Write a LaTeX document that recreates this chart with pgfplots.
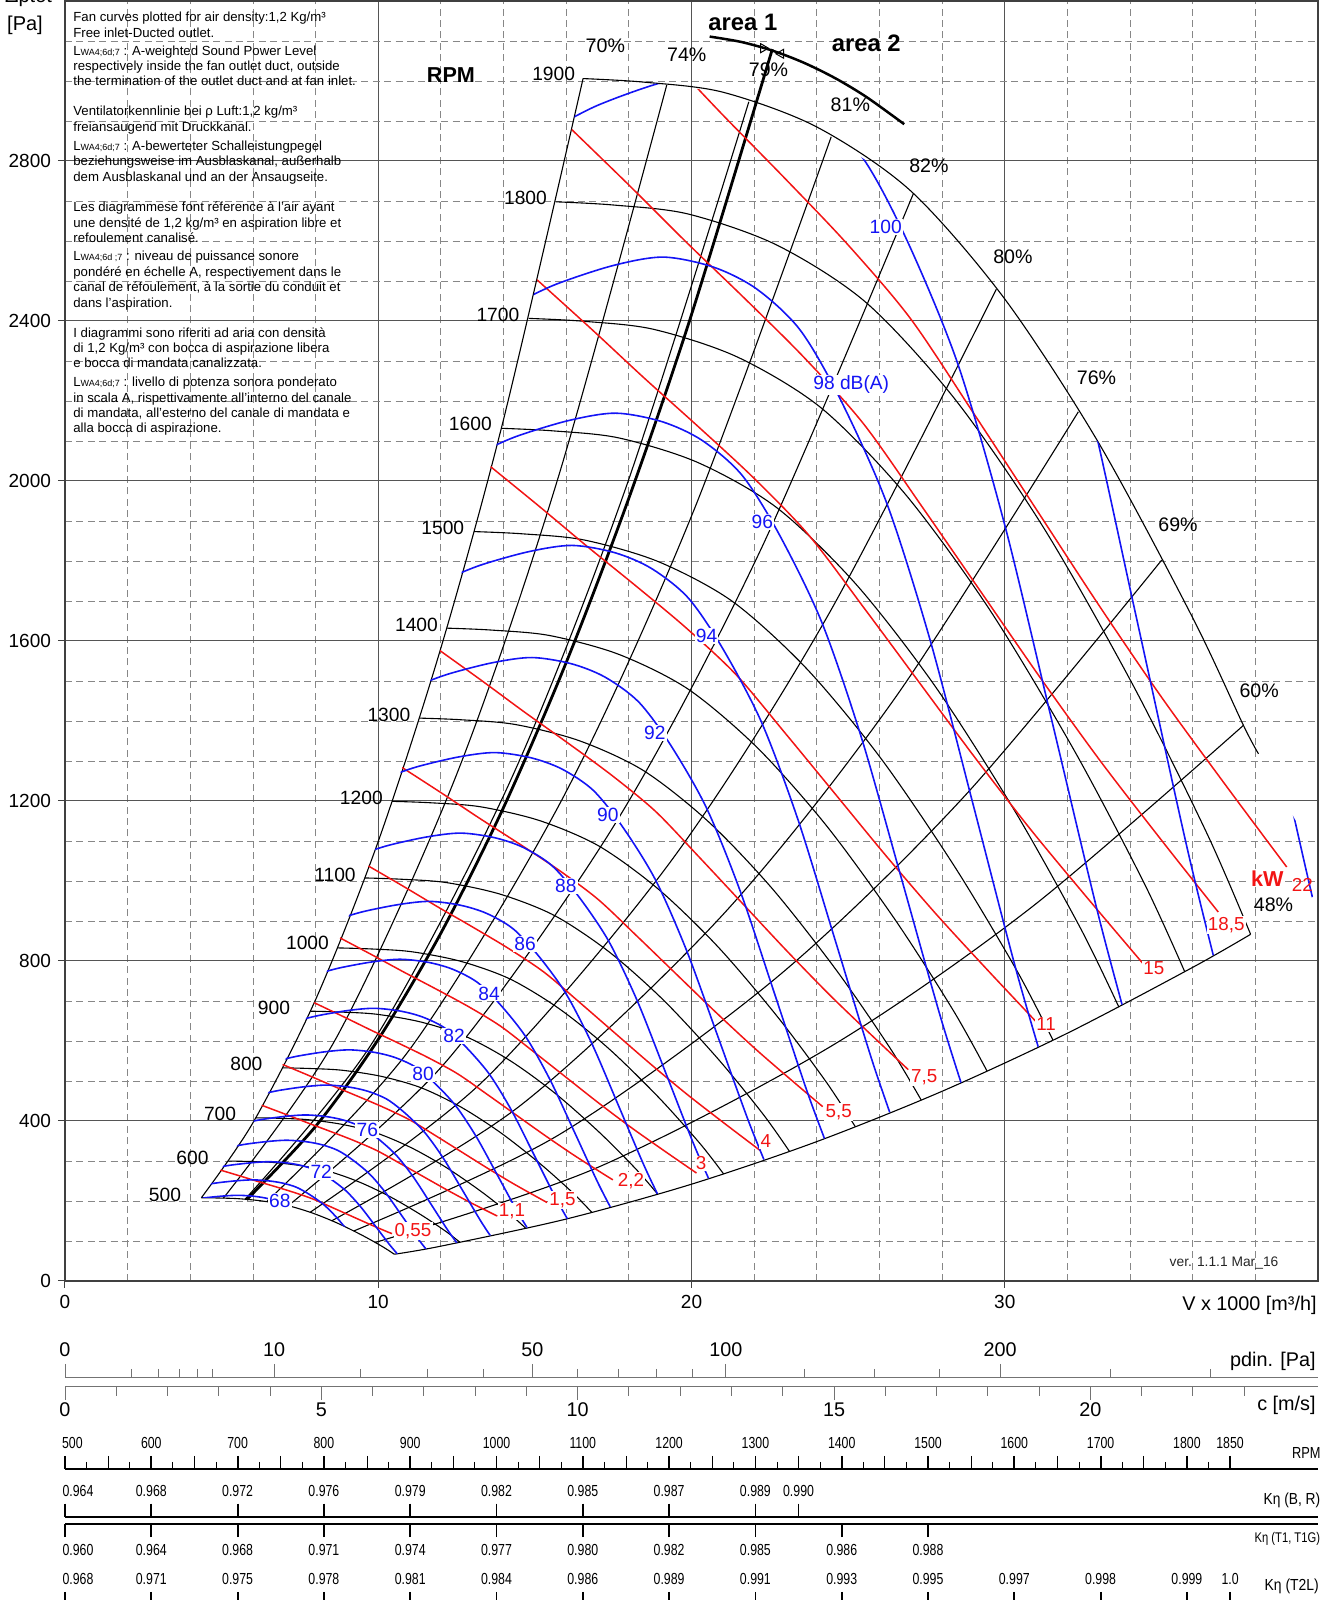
\documentclass[border=0pt]{standalone}
\usepackage{fontspec}
\setmainfont{Liberation Sans}
\usepackage{pgfplots}
\pgfplotsset{compat=1.18}

\definecolor{curveblue}{RGB}{20,20,245}
\definecolor{curvered}{RGB}{242,20,20}
\definecolor{gridgray}{RGB}{135,135,135}
\definecolor{majorgray}{RGB}{85,85,85}

\newcommand{\fsz}[1]{\fontsize{#1}{#1}\selectfont}
\newcommand{\cn}[1]{\scalebox{0.77}[1]{#1}}
\newcommand{\lwa}[1]{L{\fontsize{4.5}{5}\selectfont #1}}

\pgfplotsset{
  rpmc/.style={black, line width=0.55pt, smooth},
  effc/.style={black, line width=0.55pt, smooth},
  blc/.style={curveblue, line width=0.8pt, smooth},
  redc/.style={curvered, line width=0.75pt, smooth},
  scaleaxis/.style={scale only axis, width=626.5pt, height=8pt,
    xmin=0, xmax=40, hide y axis, clip=false, tick align=outside},
}
\tikzset{
  bl/.style={text=curveblue, fill=white, inner sep=0.6pt, font=\fsz{9.6}},
  rl/.style={text=curvered, fill=white, inner sep=0.6pt, font=\fsz{9.4}},
  pl/.style={font=\fsz{9.8}, inner sep=0.5pt},
  nl/.style={font=\fsz{9.6}, inner sep=0.5pt},
  tb/.style={anchor=base west, font=\fsz{6.6}, inner sep=0pt},
}

\begin{document}
\begin{tikzpicture}

% ---------------- main diagram ----------------
\begin{axis}[
  at={(32.5pt,159.5pt)}, anchor=origin,
  scale only axis, width=626.5pt, height=640pt,
  xmin=0, xmax=40, ymin=0, ymax=3200,
  clip=false,
  axis line style={black!75, line width=0.6pt},
  xtick={0,10,20,30}, ytick={0,400,...,2800},
  minor xtick={2,4,6,8,12,14,16,18,22,24,26,28,32,34,36,38},
  minor ytick={100,200,300,500,600,700,900,1000,1100,1300,1400,1500,1700,1800,1900,2100,2200,2300,2500,2600,2700,2900,3000,3100},
  grid=both,
  major grid style={majorgray, line width=0.5pt},
  minor grid style={gridgray, line width=0.45pt, dash pattern=on 3.5pt off 2.2pt},
  tick align=outside, tick pos=left, major tick length=3.5pt, minor tick length=0pt,
  major tick style={black!75, line width=0.5pt},
  ticklabel style={font=\fsz{9.5}},
  /pgf/number format/assume math mode=true,
  /pgf/number format/set thousands separator={},
]

% fan curves, one per speed
\addplot[rpmc] coordinates {(4.353,208.2) (4.868,207.5) (5.526,205.8) (6.316,199.8) (7.105,188.7) (7.895,170.0) (8.684,145.1) (9.474,114.8) (10.132,86.1) (10.513,66.9)};
\addplot[rpmc] coordinates {(5.223,299.8) (5.842,298.9) (6.632,296.4) (7.579,287.7) (8.526,271.7) (9.474,244.8) (10.421,208.9) (11.368,165.3) (12.158,124.0) (12.616,96.3)};
\addplot[rpmc] coordinates {(6.094,408.0) (6.816,406.8) (7.737,403.4) (8.842,391.6) (9.947,369.9) (11.053,333.2) (12.158,284.4) (13.263,225.0) (14.184,168.7) (14.718,131.1)};
\addplot[rpmc] coordinates {(6.964,532.9) (7.789,531.3) (8.842,526.9) (10.105,511.5) (11.368,483.1) (12.632,435.2) (13.895,371.4) (15.158,293.9) (16.211,220.4) (16.821,171.3)};
\addplot[rpmc] coordinates {(7.835,674.5) (8.763,672.5) (9.947,666.9) (11.368,647.3) (12.789,611.4) (14.211,550.8) (15.632,470.1) (17.053,372.0) (18.237,278.9) (18.924,216.7)};
\addplot[rpmc] coordinates {(8.705,832.7) (9.737,830.2) (11.053,823.3) (12.632,799.2) (14.211,754.8) (15.789,680.0) (17.368,580.3) (18.947,459.3) (20.263,344.3) (21.026,267.6)};
\addplot[rpmc] coordinates {(9.576,1007.6) (10.711,1004.5) (12.158,996.2) (13.895,967.0) (15.632,913.4) (17.368,822.9) (19.105,702.2) (20.842,555.7) (22.289,416.6) (23.129,323.8)};
\addplot[rpmc] coordinates {(10.446,1199.1) (11.684,1195.5) (13.263,1185.5) (15.158,1150.8) (17.053,1087.0) (18.947,979.3) (20.842,835.7) (22.737,661.4) (24.316,495.8) (25.232,385.3)};
\addplot[rpmc] coordinates {(11.317,1407.2) (12.658,1403.0) (14.368,1391.3) (16.421,1350.6) (18.474,1275.7) (20.526,1149.3) (22.579,980.8) (24.632,776.2) (26.342,581.9) (27.334,452.2)};
\addplot[rpmc] coordinates {(12.187,1632.1) (13.632,1627.2) (15.474,1613.6) (17.684,1566.4) (19.895,1479.5) (22.105,1332.9) (24.316,1137.5) (26.526,900.2) (28.368,674.9) (29.437,524.5)};
\addplot[rpmc] coordinates {(13.058,1873.5) (14.605,1867.9) (16.579,1852.4) (18.947,1798.2) (21.316,1698.4) (23.684,1530.1) (26.053,1305.8) (28.421,1033.4) (30.395,774.7) (31.539,602.1)};
\addplot[rpmc] coordinates {(13.928,2131.7) (15.579,2125.3) (17.684,2107.6) (20.211,2045.9) (22.737,1932.4) (25.263,1740.9) (27.789,1485.6) (30.316,1175.7) (32.421,881.5) (33.642,685.0)};
\addplot[rpmc] coordinates {(14.799,2406.5) (16.553,2399.3) (18.789,2379.2) (21.474,2309.6) (24.158,2181.5) (26.842,1965.4) (29.526,1677.2) (32.211,1327.3) (34.447,995.1) (35.745,773.3)};
\addplot[rpmc] coordinates {(15.669,2697.9) (17.526,2689.8) (19.895,2667.4) (22.737,2589.3) (25.579,2445.7) (28.421,2203.4) (31.263,1880.3) (34.105,1488.1) (36.474,1115.6) (37.847,867.0)};
\addplot[rpmc] coordinates {(16.54,3006) (18.5,2997) (21,2972) (24,2885) (27,2725) (30,2455) (33,2095) (36,1658) (37.62,1389) (38.1,1318)};

% efficiency lines (70% left limit, 48% lower limit)
\addplot[effc] coordinates {(4.353,208.2) (6,395.6) (8,703.4) (10,1099) (12,1582.6) (14,2154) (16.54,3006.6)};
\addplot[effc] coordinates {(5.055,207.1) (8.645,605.6) (12.487,1263.4) (15.752,2010.6) (19.21,2990)};
\addplot[effc] coordinates {(5.745,204.2) (9.824,597.0) (14.190,1245.6) (17.901,1982.3) (21.83,2948)};
\addplot[effc] coordinates {(6.437,198.1) (11.007,579.2) (15.899,1208.5) (20.057,1923.3) (24.46,2860.5)};
\addplot[effc] coordinates {(7.126,188.2) (12.186,550.3) (17.602,1148.2) (22.206,1827.5) (27.08,2717.8)};
\addplot[effc] coordinates {(7.824,171.7) (13.379,502.1) (19.325,1047.6) (24.379,1667.1) (29.73,2479.3)};
\addplot[effc] coordinates {(8.513,150.4) (14.558,440.0) (21.028,918.0) (26.527,1460.8) (32.35,2173)};
\addplot[effc] coordinates {(9.213,124.8) (15.755,364.9) (22.757,761.3) (28.708,1211.5) (35.01,1802.2)};
\addplot[effc] coordinates {(9.900,96.2) (16.929,281.3) (24.453,586.8) (30.848,933.9) (37.62,1389.1)};
\addplot[effc] coordinates {(10.513,66.9) (12,87.1) (16,154.9) (20,242) (24,348.5) (28,474.3) (32,619.5) (36,784.1) (37.847,866.6)};

% area boundary
\addplot[black, line width=1.4pt, smooth] coordinates {(5.8,203.2) (8,386.6) (10,604) (12,869.8) (14,1183.8) (16,1546.2) (18,1957) (20,2416) (22.58,3079.6)};
\addplot[black, line width=1.25pt, smooth] coordinates {(20.58,3111) (21.58,3097.7) (22.58,3076) (23.58,3045.8) (24.58,3007.3) (25.58,2960.2) (26.79,2892)};
\addplot[black, only marks, mark=triangle, mark size=2.6pt, mark options={rotate=-90, line width=0.5pt}] coordinates {(22.29,3082)};
\addplot[black, only marks, mark=triangle, mark size=2.6pt, mark options={rotate=90, line width=0.5pt}] coordinates {(22.86,3068)};

\begin{scope}
\clip (axis cs:4.353,208.2) -- (axis cs:6,395.6) -- (axis cs:8,703.4) -- (axis cs:10,1099) -- (axis cs:12,1582.6) -- (axis cs:14,2154) -- (axis cs:15.5,2640.3) -- (axis cs:16.54,3006.6) -- (axis cs:18.5,2997) -- (axis cs:21,2972) -- (axis cs:24,2885) -- (axis cs:27,2725) -- (axis cs:30,2455) -- (axis cs:33,2095) -- (axis cs:36,1658) -- (axis cs:37.62,1389) -- (axis cs:38.1,1318) -- (axis cs:40,1050) -- (axis cs:40,968) -- (axis cs:36,784.1) -- (axis cs:32,619.5) -- (axis cs:28,474.3) -- (axis cs:24,348.5) -- (axis cs:20,242) -- (axis cs:16,154.9) -- (axis cs:12,87.1) -- (axis cs:10.513,66.9) -- (axis cs:10.132,86.1) -- (axis cs:9.474,114.8) -- (axis cs:8.684,145.1) -- (axis cs:7.895,170.0) -- (axis cs:7.105,188.7) -- (axis cs:6.316,199.8) -- (axis cs:5.526,205.8) -- (axis cs:4.868,207.5) -- cycle;

% absorbed power [kW]
\addplot[redc] coordinates {(4.825,280.5) (5.556,263.3) (6.140,249.2) (6.725,235.6) (7.310,221.4) (7.895,205.6) (8.480,185.5) (9.064,165.0) (9.649,144.5) (10.234,124.8) (10.44,118.4)};
\addplot[redc] coordinates {(6.079,445.2) (7.000,418.0) (7.736,395.6) (8.473,373.9) (9.210,351.5) (9.947,326.4) (10.684,294.5) (11.420,261.9) (12.157,229.3) (12.894,198.1) (13.631,168.9) (13.80,162.4)};
\addplot[redc] coordinates {(6.742,547.9) (7.763,514.4) (8.581,486.8) (9.398,460.1) (10.215,432.5) (11.032,401.6) (11.849,362.4) (12.667,322.3) (13.484,282.2) (14.301,243.8) (15.118,207.9) (15.39,196.2)};
\addplot[redc] coordinates {(7.659,706.7) (8.820,663.4) (9.748,627.9) (10.677,593.4) (11.605,557.9) (12.533,518.0) (13.462,467.4) (14.390,415.7) (15.319,364.0) (16.247,314.5) (17.175,268.2) (17.49,252.9)};
\addplot[redc] coordinates {(8.494,869.5) (9.781,816.2) (10.811,772.5) (11.840,730.1) (12.870,686.4) (13.900,637.3) (14.929,575.1) (15.959,511.5) (16.988,447.9) (18.018,386.9) (19.048,329.9) (20.077,274.3) (20.13,271.6)};
\addplot[redc] coordinates {(9.347,1052.9) (10.764,988.4) (11.897,935.4) (13.030,884.1) (14.163,831.1) (15.296,771.8) (16.429,696.4) (17.562,619.3) (18.695,542.3) (19.828,468.5) (20.961,399.5) (22.094,332.1) (22.16,328.3)};
\addplot[redc] coordinates {(10.395,1302.2) (11.970,1222.5) (13.230,1157.0) (14.490,1093.5) (15.750,1028.0) (17.010,954.5) (18.270,861.3) (19.530,766.0) (20.790,670.8) (22.050,579.5) (23.310,494.1) (24.19,435.8)};
\addplot[redc] coordinates {(11.525,1600.8) (13.272,1502.7) (14.669,1422.2) (16.066,1344.2) (17.463,1263.7) (18.860,1173.4) (20.257,1058.7) (21.654,941.6) (23.051,824.6) (24.448,712.3) (25.845,607.4) (26.92,528.4)};
\addplot[redc] coordinates {(13.096,2067.0) (15.080,1940.4) (16.668,1836.5) (18.255,1735.7) (19.843,1631.7) (21.430,1515.2) (23.017,1367.1) (24.605,1215.9) (26.192,1064.7) (27.780,919.8) (29.367,784.4) (30.954,652.1) (30.98,650.2)};
\addplot[redc] coordinates {(14.522,2541.5) (16.722,2385.8) (18.482,2257.9) (20.242,2134.0) (22.003,2006.2) (23.763,1862.9) (25.523,1680.9) (27.283,1495.0) (29.043,1309.1) (30.804,1130.9) (32.564,964.4) (34.324,801.7) (34.41,794.0)};
\addplot[redc] coordinates {(15.576,2924.0) (17.936,2744.9) (19.824,2597.8) (21.712,2455.2) (23.600,2308.2) (25.488,2143.3) (27.376,1933.9) (29.264,1720.0) (31.152,1506.1) (33.040,1301.2) (34.928,1109.5) (36.816,922.4)};
\addplot[redc] coordinates {(16.5,3281) (19,3080) (21,2915) (23,2755) (25,2590) (27,2405) (29,2170) (31,1930) (33,1690) (35,1460) (37,1245) (39,1035)};

% sound power level LwA [dB(A)]
\addplot[blc] coordinates {(4.142,204.3) (4.528,208.5) (5.060,212.5) (5.527,214.2) (5.993,212.1) (6.392,207.5) (6.792,198.9) (7.165,184.3) (7.591,162.7) (7.990,134.1) (8.390,99.5) (8.789,64.6) (9.082,41.9)};
\addplot[blc] coordinates {(4.499,241.0) (4.918,246.0) (5.497,250.7) (6.003,252.8) (6.509,250.2) (6.943,244.8) (7.377,234.7) (7.782,217.4) (8.245,191.9) (8.679,158.2) (9.113,117.3) (9.547,76.2) (9.865,49.4)};
\addplot[blc] coordinates {(4.886,284.4) (5.342,290.2) (5.971,295.7) (6.520,298.2) (7.070,295.3) (7.542,288.8) (8.013,276.9) (8.453,256.5) (8.956,226.4) (9.427,186.6) (9.899,138.4) (10.370,90.0) (10.716,58.3)};
\addplot[blc] coordinates {(5.308,335.5) (5.803,342.4) (6.485,348.9) (7.083,351.9) (7.680,348.4) (8.192,340.8) (8.704,326.7) (9.182,302.7) (9.728,267.2) (10.240,220.2) (10.752,163.3) (11.264,106.1) (11.639,68.7)};
\addplot[blc] coordinates {(5.765,395.9) (6.303,404.0) (7.044,411.7) (7.693,415.1) (8.342,411.0) (8.898,402.1) (9.454,385.4) (9.973,357.1) (10.566,315.2) (11.123,259.8) (11.679,192.7) (12.235,125.2) (12.643,81.1)};
\addplot[blc] coordinates {(6.262,467.1) (6.846,476.6) (7.651,485.7) (8.356,489.8) (9.061,484.9) (9.665,474.4) (10.269,454.8) (10.833,421.3) (11.477,371.9) (12.081,306.5) (12.685,227.4) (13.289,147.7) (13.732,95.7)};
\addplot[blc] coordinates {(6.802,551.1) (7.436,562.3) (8.311,573.1) (9.076,577.8) (9.842,572.1) (10.498,559.7) (11.154,536.5) (11.767,497.1) (12.466,438.7) (13.123,361.6) (13.779,268.3) (14.435,174.3) (14.916,112.9)};
\addplot[blc] coordinates {(7.388,650.1) (8.077,663.4) (9.027,676.1) (9.859,681.7) (10.690,675.0) (11.403,660.3) (12.116,633.0) (12.781,586.5) (13.541,517.6) (14.254,426.6) (14.966,316.5) (15.679,205.6) (16.202,133.2)};
\addplot[blc] coordinates {(8.025,767.1) (8.773,782.8) (9.806,797.7) (10.709,804.3) (11.612,796.4) (12.386,779.0) (13.160,746.8) (13.883,692.0) (14.708,610.7) (15.482,503.4) (16.257,373.4) (17.031,242.6) (17.598,157.1)};
\addplot[blc] coordinates {(8.717,905.0) (9.530,923.6) (10.651,941.1) (11.632,949.0) (12.613,939.6) (13.454,919.2) (14.295,881.1) (15.079,816.4) (15.976,720.5) (16.817,593.9) (17.658,440.6) (18.499,286.3) (19.115,185.4)};
\addplot[blc] coordinates {(9.468,1067.8) (10.351,1089.6) (11.569,1110.4) (12.634,1119.7) (13.700,1108.5) (14.613,1084.4) (15.527,1039.6) (16.379,963.2) (17.353,850.1) (18.267,700.7) (19.180,519.8) (20.093,337.8) (20.763,218.7)};
\addplot[blc] coordinates {(10.284,1259.8) (11.243,1285.6) (12.566,1310.1) (13.724,1321.0) (14.881,1307.9) (15.873,1279.5) (16.865,1226.5) (17.791,1136.4) (18.849,1003.0) (19.841,826.7) (20.833,613.3) (21.826,398.5) (22.553,258.1)};
\addplot[blc] coordinates {(11.171,1486.3) (12.213,1516.8) (13.649,1545.7) (14.907,1558.6) (16.164,1543.1) (17.241,1509.6) (18.319,1447.1) (19.325,1340.8) (20.474,1183.4) (21.552,975.4) (22.629,723.6) (23.707,470.2) (24.497,304.5)};
\addplot[blc] coordinates {(12.134,1753.6) (13.265,1789.6) (14.826,1823.7) (16.192,1838.9) (17.557,1820.6) (18.728,1781.0) (19.898,1707.4) (20.991,1581.9) (22.239,1396.2) (23.410,1150.8) (24.580,853.7) (25.751,554.7) (26.609,359.3)};
\addplot[blc] coordinates {(13.180,2069.0) (14.409,2111.4) (16.104,2151.6) (17.587,2169.5) (19.071,2148.0) (20.342,2101.3) (21.613,2014.4) (22.800,1866.4) (24.156,1647.3) (25.427,1357.8) (26.699,1007.2) (27.970,654.5) (28.902,423.9)};
\addplot[blc] coordinates {(14.316,2441.0) (15.651,2491.0) (17.492,2538.5) (19.103,2559.7) (20.714,2534.3) (22.095,2479.2) (23.476,2376.6) (24.765,2202.0) (26.238,1943.5) (27.619,1601.9) (29.000,1188.3) (30.381,772.1) (31.394,500.1)};
\addplot[blc] coordinates {(15.55,2880) (17.0,2939) (19.0,2995) (20.75,3020) (22.5,2990) (24.0,2925) (25.5,2804) (26.9,2598) (28.5,2293) (30.0,1890) (31.5,1402) (33.0,911) (34.1,590)};
\addplot[blc] coordinates {(26.069,3451) (27.698,3308.2) (29.219,3065.2) (30.957,2705.3) (32.586,2229.9) (34.215,1654.1) (35.845,1074.8) (37.039,696.1)};
\addplot[blc] coordinates {(33.625,3191.9) (35.395,2630.9) (37.165,1951.6) (38.934,1268.1) (40.232,821.3)};
\end{scope}

% speed labels
\node[nl] at (axis cs:15.6,3017) {1900};
\node[nl] at (axis cs:14.70,2707) {1800};
\node[nl] at (axis cs:13.82,2415) {1700};
\node[nl] at (axis cs:12.94,2142) {1600};
\node[nl] at (axis cs:12.06,1882) {1500};
\node[nl] at (axis cs:11.22,1641) {1400};
\node[nl] at (axis cs:10.34,1414) {1300};
\node[nl] at (axis cs:9.46,1208) {1200};
\node[nl] at (axis cs:8.62,1015) {1100};
\node[nl] at (axis cs:7.74,845) {1000};
\node[nl] at (axis cs:6.67,684) {900};
\node[nl] at (axis cs:5.79,542) {800};
\node[nl] at (axis cs:4.95,417) {700};
\node[nl] at (axis cs:4.07,307) {600};
\node[nl] at (axis cs:3.19,215) {500};
\node[font=\bfseries\fsz{10.8}] at (axis cs:12.32,3015) {RPM};

% efficiency labels
\node[pl] at (axis cs:17.25,3087) {70\%};
\node[pl] at (axis cs:19.85,3066) {74\%};
\node[pl] at (axis cs:22.46,3028) {79\%};
\node[pl] at (axis cs:25.07,2941) {81\%};
\node[pl] at (axis cs:27.58,2788) {82\%};
\node[pl] at (axis cs:30.26,2560) {80\%};
\node[pl] at (axis cs:32.93,2257) {76\%};
\node[pl] at (axis cs:35.53,1890) {69\%};
\node[pl] at (axis cs:38.12,1475) {60\%};
\node[pl] at (axis cs:38.58,941) {48\%};

\node[font=\bfseries\fsz{11.9}] at (axis cs:21.64,3147) {area 1};
\node[font=\bfseries\fsz{11.9}] at (axis cs:25.58,3093) {area 2};

% sound level labels
\node[bl] at (axis cs:6.86,200) {68};
\node[bl] at (axis cs:8.18,273) {72};
\node[bl] at (axis cs:9.65,377) {76};
\node[bl] at (axis cs:11.43,517) {80};
\node[bl] at (axis cs:12.42,612) {82};
\node[bl] at (axis cs:13.54,719) {84};
\node[bl] at (axis cs:14.69,842) {86};
\node[bl] at (axis cs:15.99,988) {88};
\node[bl] at (axis cs:17.33,1165) {90};
\node[bl] at (axis cs:18.83,1371) {92};
\node[bl] at (axis cs:20.48,1613) {94};
\node[bl] at (axis cs:22.26,1898) {96};
\node[bl] at (axis cs:25.1,2240) {98 dB(A)};
\node[bl] at (axis cs:26.2,2635) {100};

% power labels
\node[rl] at (axis cs:11.11,124) {0,55};
\node[rl] at (axis cs:14.27,174) {1,1};
\node[rl] at (axis cs:15.88,202) {1,5};
\node[rl] at (axis cs:18.07,250) {2,2};
\node[rl] at (axis cs:20.31,294) {3};
\node[rl] at (axis cs:22.37,349) {4};
\node[rl] at (axis cs:24.70,422) {5,5};
\node[rl] at (axis cs:27.43,510) {7,5};
\node[rl] at (axis cs:31.32,642) {11};
\node[rl] at (axis cs:34.76,781) {15};
\node[rl] at (axis cs:37.07,889) {18,5};
\node[text=curvered, fill=white, inner sep=0.6pt, font=\bfseries\fsz{10.8}] at (axis cs:38.38,1007) {kW};
\node[text=curvered, inner sep=0.6pt, font=\fsz{9.4}] at (axis cs:39.5,989) {22};

\node[font=\fsz{6.9}, text=black!85] at (axis cs:37.0,45.7) {ver. 1.1.1 Mar\_16};
\end{axis}

% ---------------- auxiliary scales ----------------
% dynamic pressure
\begin{axis}[scaleaxis, at={(32.5pt,111pt)}, anchor=origin, ymin=-1, ymax=0,
  axis x line*=top, axis line style={black!55, line width=0.5pt},
  xtick={0,6.674,14.92,21.10,29.85}, xticklabels={0,10,50,100,200},
  minor xtick={2.11,2.985,3.655,4.221,4.719,9.439,11.56,13.35,16.35,17.66,18.88,20.02,23.60,25.85,27.92,33.37,36.56},
  major tick length=7pt, minor tick length=4.5pt,
  tick style={black!55, line width=0.5pt},
  xticklabel style={font=\fsz{9.9}}]
\end{axis}
% outlet velocity
\begin{axis}[scaleaxis, at={(32.5pt,106.65pt)}, anchor=origin, ymin=0, ymax=1,
  axis x line*=bottom, axis line style={black!55, line width=0.5pt},
  xtick={0,8.183,16.367,24.55,32.733}, xticklabels={0,5,10,15,20},
  minor xtick={1.637,3.273,4.910,6.547,9.820,11.457,13.093,14.730,18.003,19.640,21.277,22.913,26.187,27.823,29.460,31.097,34.370,36.007,37.643},
  major tick length=6.7pt, minor tick length=4.6pt,
  tick style={black!55, line width=0.5pt},
  xticklabel style={font=\fsz{9.9}, yshift=2pt}]
\end{axis}
% speed
\begin{axis}[scaleaxis, at={(32.5pt,65.5pt)}, anchor=origin, ymin=-1, ymax=0,
  axis x line*=top, axis line style={black, line width=0.9pt},
  xtick={0,2.755,5.51,8.265,11.02,13.775,16.53,19.285,22.04,24.795,27.55,30.305,33.06,35.815,37.1925},
  xticklabels={\hspace*{7.4pt}\cn{500},\cn{600},\cn{700},\cn{800},\cn{900},\cn{1000},\cn{1100},\cn{1200},\cn{1300},\cn{1400},\cn{1500},\cn{1600},\cn{1700},\cn{1800},\cn{1850}},
  minor xtick={0.689,2.066,3.444,4.821,6.199,7.576,8.954,10.331,11.709,13.086,14.464,15.841,17.219,18.596,19.974,21.351,22.729,24.106,25.484,26.861,28.239,29.616,30.994,32.371,33.749,35.126,36.504},
  extra x ticks={1.3775,4.1325,6.8875,9.6425,12.3975,15.1525,17.9075,20.6625,23.4175,26.1725,28.9275,31.6825,34.4375},
  extra x tick labels={},
  extra x tick style={major tick length=6.5pt, major tick style={black, line width=0.45pt}},
  major tick length=6.5pt, minor tick length=3.5pt,
  major tick style={black, line width=0.9pt}, minor tick style={black, line width=0.45pt},
  xticklabel style={font=\fsz{8}}]
\end{axis}
% motor efficiency factor B, R
\begin{axis}[scaleaxis, at={(32.5pt,41.65pt)}, anchor=origin, ymin=-1, ymax=0,
  axis x line*=top, axis line style={black, line width=0.9pt},
  xtick={0,2.755,5.51,8.265,11.02,13.775,16.53,19.285,22.04,23.4175},
  xticklabels={\hspace*{13pt}\cn{0.964},\cn{0.968},\cn{0.972},\cn{0.976},\cn{0.979},\cn{0.982},\cn{0.985},\cn{0.987},\cn{0.989},\cn{0.990}},
  major tick length=6.5pt, major tick style={black, line width=0.9pt},
  xticklabel style={font=\fsz{8}}]
\end{axis}
% motor efficiency factor T1, T1G
\begin{axis}[scaleaxis, at={(32.5pt,38pt)}, anchor=origin, ymin=0, ymax=1,
  axis x line*=bottom, axis line style={black, line width=0.9pt},
  xtick={0,2.755,5.51,8.265,11.02,13.775,16.53,19.285,22.04,24.795,27.55},
  xticklabels={\hspace*{13pt}\cn{0.960},\cn{0.964},\cn{0.968},\cn{0.971},\cn{0.974},\cn{0.977},\cn{0.980},\cn{0.982},\cn{0.985},\cn{0.986},\cn{0.988}},
  major tick length=6.5pt, major tick style={black, line width=0.9pt},
  xticklabel style={font=\fsz{8}}]
\end{axis}
% motor efficiency factor T2L
\begin{axis}[scaleaxis, at={(32.5pt,-3pt)}, anchor=origin, ymin=-1, ymax=0,
  axis x line*=top, axis line style={black, line width=0.9pt},
  xtick={0,2.755,5.51,8.265,11.02,13.775,16.53,19.285,22.04,24.795,27.55,30.305,33.06,35.815,37.1925},
  xticklabels={\hspace*{13pt}\cn{0.968},\cn{0.971},\cn{0.975},\cn{0.978},\cn{0.981},\cn{0.984},\cn{0.986},\cn{0.989},\cn{0.991},\cn{0.993},\cn{0.995},\cn{0.997},\cn{0.998},\cn{0.999},\cn{1.0}},
  major tick length=7pt, major tick style={black, line width=0.9pt},
  xticklabel style={font=\fsz{8}}]
\end{axis}

% axis titles and scale names
\node[font=\fsz{10}, anchor=base] at (14.3pt,798.6pt) {Δptot};
\node[font=\fsz{10}] at (12.5pt,787.1pt) {[Pa]};
\node[font=\fsz{9.9}, anchor=east, inner sep=0pt] at (658.5pt,147.5pt) {V x 1000 [m³/h]};
\node[font=\fsz{9.9}, anchor=east, inner sep=0pt] at (658pt,119.15pt) {pdin. [Pa]};
\node[font=\fsz{9.9}, anchor=east, inner sep=0pt] at (658pt,97.5pt) {c [m/s]};
\node[font=\fsz{8}, anchor=east, inner sep=0pt] at (660.5pt,73.35pt) {\scalebox{0.8}[1]{RPM}};
\node[font=\fsz{8}, anchor=east, inner sep=0pt] at (660.3pt,49.65pt) {\scalebox{0.86}[1]{Kη (B, R)}};
\node[font=\fsz{7}, anchor=east, inner sep=0pt] at (660.2pt,30.35pt) {\scalebox{0.8}[1]{Kη (T1, T1G)}};
\node[font=\fsz{8}, anchor=east, inner sep=0pt] at (659.6pt,6.65pt) {\scalebox{0.87}[1]{Kη (T2L)}};

% notes
\node[tb] at (36.5pt,789.35pt) {Fan curves plotted for air density:1,2 Kg/m³};
\node[tb] at (36.5pt,781.35pt) {Free inlet-Ducted outlet.};
\node[tb] at (36.5pt,772.35pt) {\lwa{WA4;6d;7} : A-weighted Sound Power Level};
\node[tb] at (36.5pt,764.85pt) {respectively inside the fan outlet duct, outside};
\node[tb] at (36.5pt,757.2pt) {the termination of the outlet duct and at fan inlet.};
\node[tb] at (36.5pt,742.2pt) {Ventilatorkennlinie bei ρ Luft:1,2 kg/m³};
\node[tb] at (36.5pt,734.2pt) {freiansaugend mit Druckkanal.};
\node[tb] at (36.5pt,724.85pt) {\lwa{WA4;6d;7} : A-bewerteter Schalleistungpegel};
\node[tb] at (36.5pt,717.2pt) {beziehungsweise im Ausblaskanal, außerhalb};
\node[tb] at (36.5pt,709.35pt) {dem Ausblaskanal und an der Ansaugseite.};
\node[tb] at (36.5pt,694.2pt) {Les diagrammese font réference à l’air ayant};
\node[tb] at (36.5pt,686.35pt) {une densité de 1,2 kg/m³ en aspiration libre et};
\node[tb] at (36.5pt,678.7pt) {refoulement canalisé.};
\node[tb] at (36.5pt,669.7pt) {\lwa{WA4;6d ;7} : niveau de puissance sonore};
\node[tb] at (36.5pt,661.85pt) {pondéré en échelle A, respectivement dans le};
\node[tb] at (36.5pt,654.35pt) {canal de réfoulement, à la sortie du conduit et};
\node[tb] at (36.5pt,646.35pt) {dans l’aspiration.};
\node[tb] at (36.5pt,631.35pt) {I diagrammi sono riferiti ad aria con densità};
\node[tb] at (36.5pt,623.55pt) {di 1,2 Kg/m³ con bocca di aspirazione libera};
\node[tb] at (36.5pt,616.05pt) {e bocca di mandata canalizzata.};
\node[tb] at (36.5pt,606.85pt) {\lwa{WA4;6d;7} : livello di potenza sonora ponderato};
\node[tb] at (36.5pt,598.85pt) {in scala A, rispettivamente all’interno del canale};
\node[tb] at (36.5pt,591.35pt) {di mandata, all’esterno del canale di mandata e};
\node[tb] at (36.5pt,583.7pt) {alla bocca di aspirazione.};

\pgfresetboundingbox
\useasboundingbox (0pt,0pt) rectangle (661.5pt,800pt);
\end{tikzpicture}
\end{document}
